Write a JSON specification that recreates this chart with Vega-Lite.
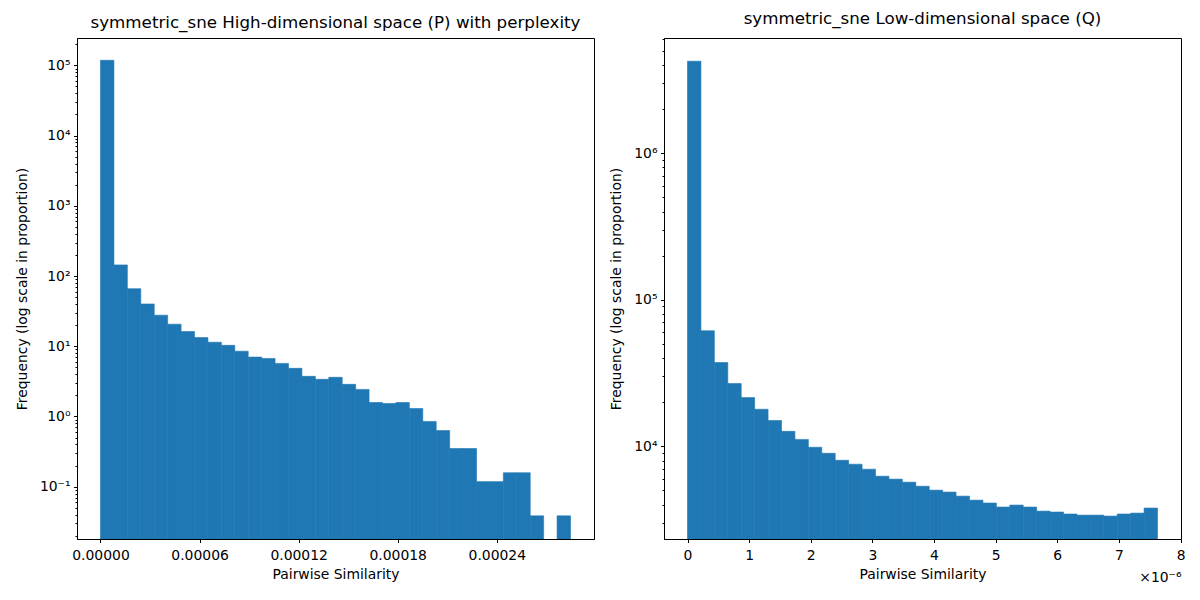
{
  "$schema": "https://vega.github.io/schema/vega-lite/v6.json",
  "padding": {"left": 14, "top": 10, "right": 20, "bottom": 0},
  "spacing": 14,
  "config": {
    "font": "DejaVu Sans",
    "view": {"stroke": "black", "strokeWidth": 1},
    "axis": {
      "domainColor": "black", "tickColor": "black", "labelColor": "black", "titleColor": "black",
      "labelFont": "DejaVu Sans", "titleFont": "DejaVu Sans",
      "labelFontSize": 13.9, "titleFontSize": 13.9, "titleFontWeight": "normal",
      "grid": false, "tickSize": 3.5, "labelPadding": 3.5, "labelFlush": false, "labelOverlap": false
    },
    "axisX": {"titlePadding": 6, "labelPadding": 5.5},
    "axisY": {"titlePadding": 10},
    "title": {"font": "DejaVu Sans", "fontSize": 16.7, "fontWeight": "normal", "color": "black", "offset": 5},
    "bar": {"color": "#1f77b4", "stroke": "#1f77b4", "strokeWidth": 0.6}
  },
  "hconcat": [
    {
      "title": "symmetric_sne High-dimensional space (P) with perplexity",
      "width": 517,
      "height": 501,
      "data": {"values": [
        {"start": 0, "end": 8.132e-6, "freq": 118000},
        {"start": 8.132e-6, "end": 1.6264e-5, "freq": 144},
        {"start": 1.6264e-5, "end": 2.4396e-5, "freq": 66},
        {"start": 2.4396e-5, "end": 3.2528e-5, "freq": 40},
        {"start": 3.2528e-5, "end": 4.066e-5, "freq": 27.7},
        {"start": 4.066e-5, "end": 4.8792e-5, "freq": 20.6},
        {"start": 4.8792e-5, "end": 5.6924e-5, "freq": 16.2},
        {"start": 5.6924e-5, "end": 6.5056e-5, "freq": 13.3},
        {"start": 6.5056e-5, "end": 7.3188e-5, "freq": 11.4},
        {"start": 7.3188e-5, "end": 8.132e-5, "freq": 10.3},
        {"start": 8.132e-5, "end": 8.9452e-5, "freq": 8.5},
        {"start": 8.9452e-5, "end": 9.7584e-5, "freq": 7.0},
        {"start": 9.7584e-5, "end": 1.05716e-4, "freq": 6.7},
        {"start": 1.05716e-4, "end": 1.13848e-4, "freq": 5.7},
        {"start": 1.13848e-4, "end": 1.2198e-4, "freq": 4.85},
        {"start": 1.2198e-4, "end": 1.30112e-4, "freq": 3.73},
        {"start": 1.30112e-4, "end": 1.38244e-4, "freq": 3.38},
        {"start": 1.38244e-4, "end": 1.46376e-4, "freq": 3.61},
        {"start": 1.46376e-4, "end": 1.54508e-4, "freq": 2.87},
        {"start": 1.54508e-4, "end": 1.6264e-4, "freq": 2.43},
        {"start": 1.6264e-4, "end": 1.70772e-4, "freq": 1.58},
        {"start": 1.70772e-4, "end": 1.78904e-4, "freq": 1.53},
        {"start": 1.78904e-4, "end": 1.87036e-4, "freq": 1.58},
        {"start": 1.87036e-4, "end": 1.95168e-4, "freq": 1.30},
        {"start": 1.95168e-4, "end": 2.033e-4, "freq": 0.85},
        {"start": 2.033e-4, "end": 2.11432e-4, "freq": 0.63},
        {"start": 2.11432e-4, "end": 2.19564e-4, "freq": 0.35},
        {"start": 2.19564e-4, "end": 2.27696e-4, "freq": 0.35},
        {"start": 2.27696e-4, "end": 2.35828e-4, "freq": 0.118},
        {"start": 2.35828e-4, "end": 2.4396e-4, "freq": 0.118},
        {"start": 2.4396e-4, "end": 2.52092e-4, "freq": 0.158},
        {"start": 2.52092e-4, "end": 2.60224e-4, "freq": 0.158},
        {"start": 2.60224e-4, "end": 2.68356e-4, "freq": 0.0385},
        {"start": 2.76488e-4, "end": 2.8462e-4, "freq": 0.0385}
      ]},
      "mark": {"type": "bar", "clip": true},
      "encoding": {
        "x": {
          "field": "start", "type": "quantitative",
          "scale": {"domain": [-1.423e-5, 2.9885e-4], "nice": false, "zero": false},
          "axis": {"title": "Pairwise Similarity", "values": [0, 6e-5, 1.2e-4, 1.8e-4, 2.4e-4], "format": ".5f"}
        },
        "x2": {"field": "end"},
        "y": {
          "field": "freq", "type": "quantitative",
          "scale": {"type": "log", "domain": [0.018, 245000], "nice": false},
          "axis": {
            "title": "Frequency (log scale in proportion)",
            "values": [0.02, 0.03, 0.04, 0.05, 0.06, 0.07, 0.08, 0.09, 0.1, 0.2, 0.3, 0.4, 0.5, 0.6, 0.7, 0.8, 0.9, 1, 2, 3, 4, 5, 6, 7, 8, 9, 10, 20, 30, 40, 50, 60, 70, 80, 90, 100, 200, 300, 400, 500, 600, 700, 800, 900, 1000, 2000, 3000, 4000, 5000, 6000, 7000, 8000, 9000, 10000, 20000, 30000, 40000, 50000, 60000, 70000, 80000, 90000, 100000, 200000],
            "labelExpr": "abs(log(datum.value)/LN10 - round(log(datum.value)/LN10)) < 0.001 ? '10' + (datum.value < 1 ? '⁻' : '') + ['⁰','¹','²','³','⁴','⁵','⁶'][abs(round(log(datum.value)/LN10))] : ''",
            "tickSize": {"condition": {"test": "abs(log(datum.value)/LN10 - round(log(datum.value)/LN10)) > 0.001", "value": 2}, "value": 3.5}
          }
        },
        "y2": {"datum": 0.018}
      }
    },
    {
      "title": "symmetric_sne Low-dimensional space (Q)",
      "width": 517,
      "height": 501,
      "data": {"values": [
        {"start": 0, "end": 2.1789e-7, "freq": 4250000},
        {"start": 2.1789e-7, "end": 4.3578e-7, "freq": 61500},
        {"start": 4.3578e-7, "end": 6.5367e-7, "freq": 37300},
        {"start": 6.5367e-7, "end": 8.7156e-7, "freq": 26800},
        {"start": 8.7156e-7, "end": 1.08945e-6, "freq": 21500},
        {"start": 1.08945e-6, "end": 1.30734e-6, "freq": 17900},
        {"start": 1.30734e-6, "end": 1.52523e-6, "freq": 15000},
        {"start": 1.52523e-6, "end": 1.74312e-6, "freq": 12650},
        {"start": 1.74312e-6, "end": 1.96101e-6, "freq": 11150},
        {"start": 1.96101e-6, "end": 2.1789e-6, "freq": 9850},
        {"start": 2.1789e-6, "end": 2.39679e-6, "freq": 8960},
        {"start": 2.39679e-6, "end": 2.61468e-6, "freq": 8030},
        {"start": 2.61468e-6, "end": 2.83257e-6, "freq": 7550},
        {"start": 2.83257e-6, "end": 3.05046e-6, "freq": 6980},
        {"start": 3.05046e-6, "end": 3.26835e-6, "freq": 6250},
        {"start": 3.26835e-6, "end": 3.48624e-6, "freq": 5970},
        {"start": 3.48624e-6, "end": 3.70413e-6, "freq": 5690},
        {"start": 3.70413e-6, "end": 3.92202e-6, "freq": 5340},
        {"start": 3.92202e-6, "end": 4.13991e-6, "freq": 5020},
        {"start": 4.13991e-6, "end": 4.3578e-6, "freq": 4870},
        {"start": 4.3578e-6, "end": 4.57569e-6, "freq": 4570},
        {"start": 4.57569e-6, "end": 4.79358e-6, "freq": 4290},
        {"start": 4.79358e-6, "end": 5.01147e-6, "freq": 4100},
        {"start": 5.01147e-6, "end": 5.22936e-6, "freq": 3850},
        {"start": 5.22936e-6, "end": 5.44725e-6, "freq": 3970},
        {"start": 5.44725e-6, "end": 5.66514e-6, "freq": 3850},
        {"start": 5.66514e-6, "end": 5.88303e-6, "freq": 3610},
        {"start": 5.88303e-6, "end": 6.10092e-6, "freq": 3560},
        {"start": 6.10092e-6, "end": 6.31881e-6, "freq": 3450},
        {"start": 6.31881e-6, "end": 6.5367e-6, "freq": 3390},
        {"start": 6.5367e-6, "end": 6.75459e-6, "freq": 3390},
        {"start": 6.75459e-6, "end": 6.97248e-6, "freq": 3340},
        {"start": 6.97248e-6, "end": 7.19037e-6, "freq": 3450},
        {"start": 7.19037e-6, "end": 7.40826e-6, "freq": 3500},
        {"start": 7.40826e-6, "end": 7.62615e-6, "freq": 3790}
      ]},
      "encoding": {
        "x2": {"field": "end"},
        "y": {
          "field": "freq", "type": "quantitative",
          "scale": {"type": "log", "domain": [2330, 6120000], "nice": false},
          "axis": {
            "title": "Frequency (log scale in proportion)",
            "values": [3000, 4000, 5000, 6000, 7000, 8000, 9000, 10000, 20000, 30000, 40000, 50000, 60000, 70000, 80000, 90000, 100000, 200000, 300000, 400000, 500000, 600000, 700000, 800000, 900000, 1000000, 2000000, 3000000, 4000000, 5000000, 6000000],
            "labelExpr": "abs(log(datum.value)/LN10 - round(log(datum.value)/LN10)) < 0.001 ? '10' + ['⁰','¹','²','³','⁴','⁵','⁶'][abs(round(log(datum.value)/LN10))] : ''",
            "tickSize": {"condition": {"test": "abs(log(datum.value)/LN10 - round(log(datum.value)/LN10)) > 0.001", "value": 2}, "value": 3.5}
          }
        },
        "y2": {"datum": 2330}
      },
      "layer": [
        {
          "mark": {"type": "bar", "clip": true},
          "encoding": {
            "x": {
              "field": "start", "type": "quantitative",
              "scale": {"domain": [-3.813e-7, 8.0073e-6], "nice": false, "zero": false},
              "axis": {"title": "Pairwise Similarity", "orient": "bottom", "values": [0, 1e-6, 2e-6, 3e-6, 4e-6, 5e-6, 6e-6, 7e-6, 8e-6], "labelExpr": "format(datum.value * 1e6, '.0f')"}
            }
          }
        },
        {
          "mark": {"type": "bar", "opacity": 0},
          "encoding": {
            "x": {
              "field": "start", "type": "quantitative",
              "scale": {"domain": [-3.813e-7, 8.0073e-6], "nice": false, "zero": false},
              "axis": {"title": "×10⁻⁶", "orient": "bottom", "labels": false, "ticks": false, "domain": false, "titleAnchor": "end", "titlePadding": 31}
            }
          }
        }
      ],
      "resolve": {"scale": {"x": "independent"}, "axis": {"x": "independent"}}
    }
  ]
}
